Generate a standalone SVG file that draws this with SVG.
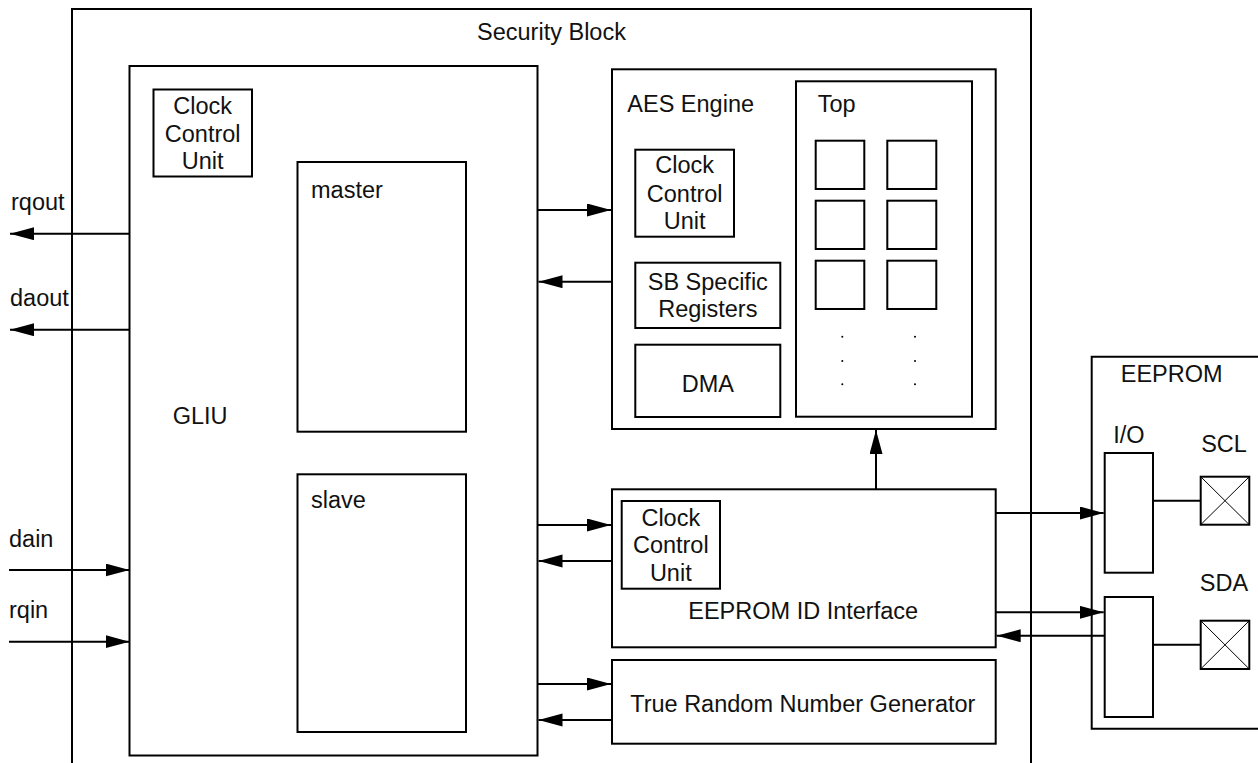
<svg xmlns="http://www.w3.org/2000/svg" width="1258" height="763" viewBox="0 0 1258 763">
<style>
.b{fill:none;stroke:#000;stroke-width:2}
.t{font-family:"Liberation Sans",Arial,sans-serif;font-size:23.5px;fill:#111}
.m{text-anchor:middle}
.c{stroke:#000;stroke-width:2;fill:none}
.x{stroke:#000;stroke-width:1;fill:none}
</style>
<defs>
<marker id="ah" markerUnits="userSpaceOnUse" markerWidth="25" markerHeight="14" refX="24" refY="6.5" orient="auto">
<path d="M0,0 L24,6.5 L0,13 z" fill="#000"/>
</marker>
</defs>
<rect width="1258" height="763" fill="#fff"/>

<g id="security-block">
<path class="b" d="M72,763 V9 H1031 V763"/>
<text class="t m" x="551.5" y="40">Security Block</text>
</g>

<g id="gliu">
<rect class="b" x="129.5" y="66" width="408" height="689.5"/>
<text class="t" x="172.7" y="424.3">GLIU</text>
</g>
<g id="gliu-ccu">
<rect class="b" x="153.5" y="89.5" width="98.5" height="87"/>
<text class="t m" x="202.7" y="114">Clock</text>
<text class="t m" x="202.7" y="141.7">Control</text>
<text class="t m" x="202.7" y="169.3">Unit</text>
</g>
<g id="master">
<rect class="b" x="297.5" y="162" width="168.5" height="269.7"/>
<text class="t" x="311" y="198">master</text>
</g>
<g id="slave">
<rect class="b" x="297.5" y="474.3" width="168.5" height="257.7"/>
<text class="t" x="311" y="508">slave</text>
</g>

<g id="aes-engine">
<rect class="b" x="612" y="69.3" width="383.7" height="359.7"/>
<text class="t" x="627.3" y="111.7">AES Engine</text>
</g>
<g id="aes-ccu">
<rect class="b" x="635.3" y="149.7" width="98.7" height="87"/>
<text class="t m" x="684.7" y="173.3">Clock</text>
<text class="t m" x="684.7" y="201.7">Control</text>
<text class="t m" x="684.7" y="229.3">Unit</text>
</g>
<g id="sb-registers">
<rect class="b" x="635.3" y="262.7" width="145" height="65.3"/>
<text class="t m" x="707.8" y="290">SB Specific</text>
<text class="t m" x="707.8" y="317.3">Registers</text>
</g>
<g id="dma">
<rect class="b" x="635.3" y="344.7" width="145" height="72.3"/>
<text class="t m" x="707.8" y="391.7">DMA</text>
</g>
<g id="top">
<rect class="b" x="796" y="81.3" width="176" height="335.4"/>
<text class="t" x="817.7" y="111.7">Top</text>
<rect class="b" x="815.7" y="140.7" width="48.6" height="48.3"/>
<rect class="b" x="887.3" y="140.7" width="49" height="48.3"/>
<rect class="b" x="815.7" y="200.7" width="48.6" height="48.3"/>
<rect class="b" x="887.3" y="200.7" width="49" height="48.3"/>
<rect class="b" x="815.7" y="260.7" width="48.6" height="48.3"/>
<rect class="b" x="887.3" y="260.7" width="49" height="48.3"/>
<g fill="#000">
<circle cx="842.3" cy="336.7" r="1"/><circle cx="842.3" cy="361" r="1"/><circle cx="842.3" cy="384.3" r="1"/>
<circle cx="915" cy="336.7" r="1"/><circle cx="915" cy="361" r="1"/><circle cx="915" cy="384.3" r="1"/>
</g>
</g>

<g id="eeprom-id-interface">
<rect class="b" x="612" y="489.3" width="383.7" height="158"/>
<text class="t m" x="803.2" y="619.3">EEPROM ID Interface</text>
</g>
<g id="id-ccu">
<rect class="b" x="621.7" y="501" width="98.3" height="87.7"/>
<text class="t m" x="670.8" y="526">Clock</text>
<text class="t m" x="670.8" y="553.3">Control</text>
<text class="t m" x="670.8" y="581">Unit</text>
</g>
<g id="trng">
<rect class="b" x="612" y="660" width="383.7" height="83.7"/>
<text class="t m" x="802.8" y="712.3">True Random Number Generator</text>
</g>

<g id="eeprom">
<path class="b" d="M1260,356.7 H1091.7 V728.7 H1260"/>
<text class="t m" x="1171.7" y="381.7">EEPROM</text>
</g>
<g id="io-top">
<rect class="b" x="1104.7" y="453" width="48.3" height="119.7"/>
<text class="t" x="1113.3" y="443.3">I/O</text>
</g>
<g id="io-bottom">
<rect class="b" x="1104.7" y="597" width="48.3" height="120"/>
</g>
<g id="scl">
<text class="t m" x="1224" y="451.7">SCL</text>
<rect class="b" x="1200.7" y="476.7" width="48.6" height="48"/>
<path class="x" d="M1200.7,476.7 L1249.3,524.7 M1249.3,476.7 L1200.7,524.7"/>
</g>
<g id="sda">
<text class="t m" x="1224" y="590.7">SDA</text>
<rect class="b" x="1200.7" y="620.7" width="48.6" height="48.3"/>
<path class="x" d="M1200.7,620.7 L1249.3,669 M1249.3,620.7 L1200.7,669"/>
</g>

<g id="connectors">
<text class="t" x="11" y="210">rqout</text>
<text class="t" x="10" y="306">daout</text>
<text class="t" x="9" y="546.7">dain</text>
<text class="t" x="9" y="618.3">rqin</text>
<line class="c" x1="129.5" y1="233.7" x2="10" y2="233.7" marker-end="url(#ah)"/>
<line class="c" x1="129.5" y1="329.7" x2="10" y2="329.7" marker-end="url(#ah)"/>
<line class="c" x1="9" y1="570" x2="129.5" y2="570" marker-end="url(#ah)"/>
<line class="c" x1="9" y1="641.7" x2="129.5" y2="641.7" marker-end="url(#ah)"/>
<line class="c" x1="537.5" y1="210" x2="611" y2="210" marker-end="url(#ah)"/>
<line class="c" x1="612" y1="281.7" x2="538.5" y2="281.7" marker-end="url(#ah)"/>
<line class="c" x1="537.5" y1="525" x2="611" y2="525" marker-end="url(#ah)"/>
<line class="c" x1="612" y1="561" x2="538.5" y2="561" marker-end="url(#ah)"/>
<line class="c" x1="537.5" y1="684" x2="611" y2="684" marker-end="url(#ah)"/>
<line class="c" x1="612" y1="720" x2="538.5" y2="720" marker-end="url(#ah)"/>
<line class="c" x1="876" y1="489.3" x2="876" y2="430" marker-end="url(#ah)"/>
<line class="c" x1="995.7" y1="513" x2="1103.7" y2="513" marker-end="url(#ah)"/>
<line class="c" x1="995.7" y1="612.3" x2="1103.7" y2="612.3" marker-end="url(#ah)"/>
<line class="c" x1="1104.7" y1="635.7" x2="996.7" y2="635.7" marker-end="url(#ah)"/>
<line class="c" x1="1153" y1="500.7" x2="1200.7" y2="500.7"/>
<line class="c" x1="1153" y1="644.7" x2="1200.7" y2="644.7"/>
</g>
</svg>
